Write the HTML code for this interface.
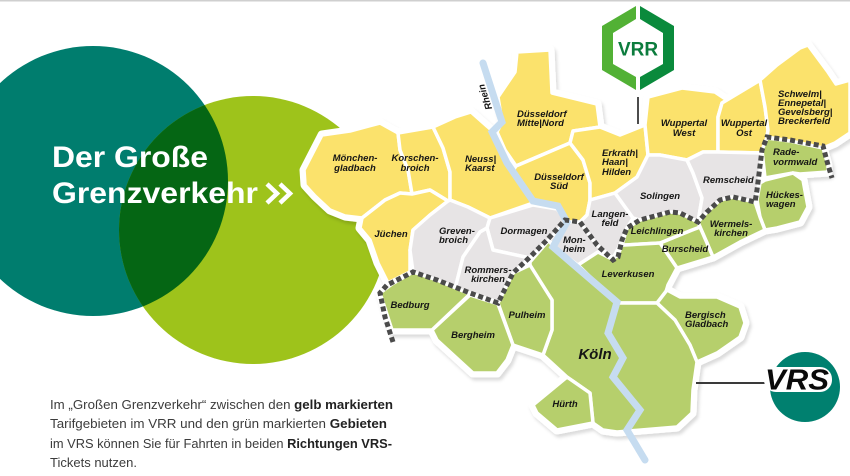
<!DOCTYPE html>
<html><head><meta charset="utf-8"><style>
html,body{margin:0;padding:0;background:#fff;}
svg{display:block;}
</style></head><body>
<svg width="850" height="476" viewBox="0 0 850 476" xmlns="http://www.w3.org/2000/svg">
<defs>
<clipPath id="tc"><circle cx="93" cy="181" r="135"/></clipPath>
<filter id="sh" x="-10%" y="-10%" width="120%" height="120%"><feDropShadow dx="2" dy="3" stdDeviation="1.5" flood-color="#000" flood-opacity="0.14"/></filter>
<g id="m">
<polygon fill="#fbe26c" points="304,170 322,135 350,131 380,123 398,133 400,150 408,170 412,194 400,193 385,200 362,218 345,216 330,210 315,196 305,185"/>
<polygon fill="#fbe26c" points="398,133 433,127 443,148 450,172 450,200 448,201 430,190 412,194 408,170 400,150"/>
<polygon fill="#fbe26c" points="362,218 385,200 400,193 412,194 430,190 448,201 430,215 413,230 410,250 410,272 388,283 378,263 370,240 360,228"/>
<polygon fill="#fbe26c" points="433,127 455,117 471,112 488,127 495,133 505,160 533,203 490,218 468,207 450,200 450,172 443,148"/>
<polygon fill="#fbe26c" points="517,52 550,50 552,93 597,104 600,127 573,131 570,143 516,166 505,150 497,132 502,122 498,97 515,72"/>
<polygon fill="#fbe26c" points="516,166 570,143 583,160 590,183 590,200 587,215 580,222 567,222 557,207 533,203 512,172"/>
<polygon fill="#fbe26c" points="573,131 600,127 620,135 645,125 648,155 637,177 615,193 590,200 590,183 583,160 570,143"/>
<polygon fill="#fbe26c" points="645,125 648,97 682,88 715,92 727,100 722,103 718,117 718,152 703,152 687,160 660,155 648,155"/>
<polygon fill="#fbe26c" points="722,103 757,82 760,80 765,107 768,130 767,137 762,153 718,152 718,117"/>
<polygon fill="#fbe26c" points="760,80 777,65 800,48 808,45 828,72 836,84 850,80 850,133 835,143 823,148 790,141 767,137 768,130 765,107"/>
<polygon fill="#e7e4e5" points="450,200 468,207 490,218 487,228 480,232 463,257 455,289 437,280 413,272 410,250 413,230 430,215 448,201"/>
<polygon fill="#e7e4e5" points="490,218 533,205 557,209 566,221 549,240 530,258 493,250 487,228"/>
<polygon fill="#e7e4e5" points="487,228 493,250 530,258 513,273 498,302 470,293 455,289 463,257 480,232"/>
<polygon fill="#e7e4e5" points="565,222 580,222 597,245 612,259 598,252 578,265 553,247 549,240"/>
<polygon fill="#e7e4e5" points="590,200 615,193 633,218 627,228 620,245 613,258 597,245 580,222 587,215"/>
<polygon fill="#e7e4e5" points="615,193 637,177 648,155 660,155 687,160 693,173 702,198 698,222 680,213 670,212 640,220 633,218"/>
<polygon fill="#e7e4e5" points="687,160 703,152 718,152 762,153 758,190 755,202 733,197 720,200 707,212 698,222 702,198 693,173"/>
<polygon fill="#b6cf6c" points="767,138 790,141 823,148 828,165 828,172 800,174 793,173 765,178 762,150"/>
<polygon fill="#b6cf6c" points="757,200 760,183 765,180 793,173 803,180 808,207 800,222 777,228 765,230 760,217"/>
<polygon fill="#b6cf6c" points="698,222 707,212 720,200 733,197 755,202 760,217 765,230 740,242 713,257 707,243 700,227"/>
<polygon fill="#b6cf6c" points="660,243 692,230 700,227 707,243 713,257 677,268"/>
<polygon fill="#b6cf6c" points="622,245 627,228 640,220 670,212 680,213 698,222 700,227 692,230 660,243 625,245"/>
<polygon fill="#b6cf6c" points="578,265 598,252 612,259 618,255 622,245 625,245 660,243 677,268 668,285 665,295 657,303 617,303"/>
<polygon fill="#b6cf6c" points="657,303 667,290 680,297 717,297 740,307 745,323 740,337 717,353 697,362 690,345 675,320"/>
<polygon fill="#b6cf6c" points="530,262 549,240 553,247 617,303 657,303 675,320 690,345 697,362 693,390 692,413 677,427 617,432 603,430 593,423 590,393 567,377 543,355 552,330 552,300 530,267"/>
<polygon fill="#b6cf6c" points="533,405 567,377 590,393 593,423 557,430 537,413"/>
<polygon fill="#b6cf6c" points="498,303 513,273 530,265 552,300 552,330 543,355 513,345"/>
<polygon fill="#b6cf6c" points="432,330 470,295 498,304 513,345 507,360 497,373 473,373 437,340"/>
<polygon fill="#b6cf6c" points="380,293 392,284 413,272 437,280 470,294 432,330 392,330"/>
</g>
</defs>

<rect x="0" y="0" width="850" height="1.5" fill="#cfcfcf"/>

<circle cx="93" cy="181" r="135" fill="#007d6e"/>
<circle cx="253" cy="230" r="134" fill="#9ec31b"/>
<circle cx="253" cy="230" r="134" fill="#056614" clip-path="url(#tc)"/>

<g font-family="'Liberation Sans', sans-serif" font-weight="bold" font-size="30" fill="#fff">
<text x="52" y="167" textLength="156" lengthAdjust="spacingAndGlyphs">Der Große</text>
<text x="52" y="203" textLength="206" lengthAdjust="spacingAndGlyphs">Grenzverkehr</text>
</g>
<g fill="none" stroke="#fff" stroke-width="4.5" stroke-linejoin="miter">
<polyline points="267,184 277,193.5 267,203"/>
<polyline points="280,184 290,193.5 280,203"/>
</g>

<use href="#m" stroke="#fff" stroke-width="9" stroke-linejoin="round" filter="url(#sh)"/>
<use href="#m" stroke="#fff" stroke-width="3.5" stroke-linejoin="round"/>

<polyline points="483,63 502,122 492,132 507,163 533,201 558,206 567,222 553,247 617,302 608,333 623,358 613,377 640,410 627,430 645,460" fill="none" stroke="#c6dcf0" stroke-width="7" stroke-linejoin="miter" stroke-linecap="round"/>

<polyline points="393,342 385,317 380,293 387,285 413,272 437,280 470,293 498,303 513,273 530,257 547,240 565,220 580,222 597,245 613,260 618,257 622,240 627,228 640,220 670,212 680,213 698,222 707,212 720,200 733,197 755,202 757,190 762,150 767,137 790,140 823,146 828,165 832,178" fill="none" stroke="#4b4b4b" stroke-width="5" stroke-dasharray="5 3"/>

<g font-family="'Liberation Sans', sans-serif" font-style="italic" font-weight="bold" font-size="9.5" fill="#151515">
<text x="355" y="161" text-anchor="middle">Mönchen-</text>
<text x="355" y="171" text-anchor="middle">gladbach</text>
<text x="415" y="161" text-anchor="middle">Korschen-</text>
<text x="415" y="171" text-anchor="middle">broich</text>
<text x="465" y="162">Neuss|</text>
<text x="465" y="171">Kaarst</text>
<text x="517" y="117">Düsseldorf</text>
<text x="517" y="126">Mitte|Nord</text>
<text x="559" y="180" text-anchor="middle">Düsseldorf</text>
<text x="559" y="189" text-anchor="middle">Süd</text>
<text x="602" y="156">Erkrath|</text>
<text x="602" y="165">Haan|</text>
<text x="602" y="175">Hilden</text>
<text x="684" y="126" text-anchor="middle">Wuppertal</text>
<text x="684" y="136" text-anchor="middle">West</text>
<text x="744" y="126" text-anchor="middle">Wuppertal</text>
<text x="744" y="136" text-anchor="middle">Ost</text>
<text x="778" y="97">Schwelm|</text>
<text x="778" y="106">Ennepetal|</text>
<text x="778" y="115">Gevelsberg|</text>
<text x="778" y="124">Breckerfeld</text>
<text x="773" y="155">Rade-</text>
<text x="773" y="165">vormwald</text>
<text x="766" y="198">Hückes-</text>
<text x="766" y="207">wagen</text>
<text x="703" y="183">Remscheid</text>
<text x="660" y="199" text-anchor="middle">Solingen</text>
<text x="610" y="217" text-anchor="middle">Langen-</text>
<text x="610" y="226" text-anchor="middle">feld</text>
<text x="657" y="234" text-anchor="middle">Leichlingen</text>
<text x="685" y="252" text-anchor="middle">Burscheid</text>
<text x="731" y="227" text-anchor="middle">Wermels-</text>
<text x="731" y="236" text-anchor="middle">kirchen</text>
<text x="628" y="277" text-anchor="middle">Leverkusen</text>
<text x="685" y="318">Bergisch</text>
<text x="685" y="327">Gladbach</text>
<text x="391" y="237" text-anchor="middle">Jüchen</text>
<text x="439" y="234">Greven-</text>
<text x="439" y="243">broich</text>
<text x="524" y="234" text-anchor="middle">Dormagen</text>
<text x="563" y="243">Mon-</text>
<text x="563" y="252">heim</text>
<text x="488" y="273" text-anchor="middle">Rommers-</text>
<text x="488" y="282" text-anchor="middle">kirchen</text>
<text x="410" y="308" text-anchor="middle">Bedburg</text>
<text x="473" y="338" text-anchor="middle">Bergheim</text>
<text x="527" y="318" text-anchor="middle">Pulheim</text>
<text x="565" y="407" text-anchor="middle">Hürth</text>
<text x="595" y="359" text-anchor="middle" font-size="15">Köln</text>
<text x="0" y="0" transform="translate(488,96) rotate(-108)" text-anchor="middle" font-size="9.5">Rhein</text>
</g>

<polygon points="636,6 602,26 602,70 636,90 636,77 613,64 613,33 636,19" fill="#52b135"/>
<polygon points="640,6 674,26 674,70 640,90 640,77 663,64 663,33 640,19" fill="#0a8a3c"/>
<text x="638" y="55.5" text-anchor="middle" font-family="'Liberation Sans', sans-serif" font-weight="bold" font-size="19" fill="#0c7c3d">VRR</text>
<line x1="638" y1="97" x2="638" y2="124" stroke="#111" stroke-width="1.5"/>

<line x1="696" y1="383" x2="765" y2="383" stroke="#3a3a3a" stroke-width="2"/>
<circle cx="805" cy="387" r="35" fill="#00806f"/>
<rect x="764" y="367" width="68" height="25" rx="12" fill="#fff"/>
<text x="797" y="389.5" text-anchor="middle" font-family="'Liberation Sans', sans-serif" font-style="italic" font-weight="bold" font-size="29" fill="#0a0a0a" textLength="64" lengthAdjust="spacingAndGlyphs">VRS</text>

<g font-family="'Liberation Sans', sans-serif" font-size="13" fill="#3c3c3c">
<text x="50" y="409" textLength="343" lengthAdjust="spacingAndGlyphs">Im „Großen Grenzverkehr“ zwischen den <tspan font-weight="bold" fill="#222">gelb markierten</tspan></text>
<text x="50" y="428" textLength="337" lengthAdjust="spacingAndGlyphs">Tarifgebieten im VRR und den grün markierten <tspan font-weight="bold" fill="#222">Gebieten</tspan></text>
<text x="50" y="448" textLength="342" lengthAdjust="spacingAndGlyphs">im VRS können Sie für Fahrten in beiden <tspan font-weight="bold" fill="#222">Richtungen VRS-</tspan></text>
<text x="50" y="467" textLength="87" lengthAdjust="spacingAndGlyphs">Tickets nutzen.</text>
</g>
</svg>
</body></html>
